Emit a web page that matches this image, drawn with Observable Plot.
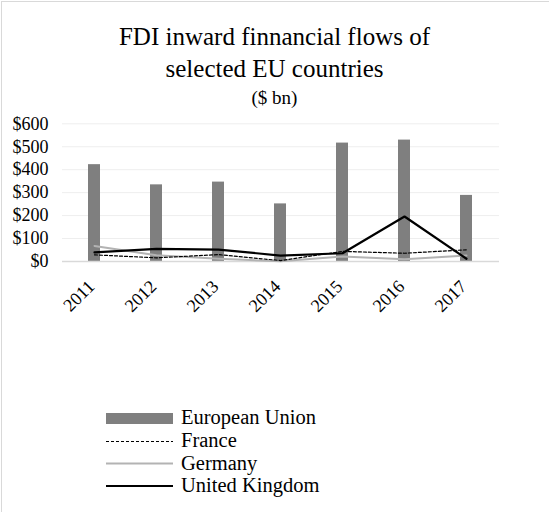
<!DOCTYPE html>
<html><head><meta charset="utf-8">
<script src="https://cdn.jsdelivr.net/npm/d3@7"></script>
<script src="https://cdn.jsdelivr.net/npm/@observablehq/plot@0.6"></script>
<style>
body{margin:0;background:#fff;}
#chart{position:relative;width:549px;height:512px;overflow:hidden;font-family:"Liberation Serif",serif;color:#000;background:#fff;}
#chart svg, #chart svg text, #chart div{font-family:"Liberation Serif",serif !important;}
#frame{position:absolute;left:1px;top:1px;width:600px;height:600px;border-left:1px solid #d9d9d9;border-top:1px solid #d9d9d9;}
.t{position:absolute;left:0;width:549px;text-align:center;line-height:1;white-space:nowrap;}
#plot{position:absolute;left:0;top:110px;}
#legend{position:absolute;left:0;top:400px;}
.lt{position:absolute;left:181px;font-size:20.5px;line-height:1;white-space:nowrap;}
</style></head><body>
<div id="chart">
  <div id="frame"></div>
  <div class="t" style="top:24px;font-size:25px;">FDI inward finnancial flows of</div>
  <div class="t" style="top:56.4px;font-size:25px;">selected EU countries</div>
  <div class="t" style="top:87.5px;font-size:19px;">($ bn)</div>
  <div id="plot"></div>
  <div id="legend"></div>
</div>
<script>
const years = ["2011", "2012", "2013", "2014", "2015", "2016", "2017"];
const euValues = [422, 334, 346, 251, 516, 529, 288];
const franceValues = [29, 16, 30, 4, 44, 36, 51];
const germanyValues = [68, 27, 12, 1, 22, 10, 26];
const ukValues = [40, 55, 52, 26, 36, 196, 12];
const seriesNames = ["European Union", "France", "Germany", "United Kingdom"];
const yTicks = [0, 100, 200, 300, 400, 500, 600];

const rows = years.map((year, i) => ({
  year, eu: euValues[i], france: franceValues[i], germany: germanyValues[i], uk: ukValues[i]
}));

const serif = "Liberation Serif";
const chart = Plot.plot({
  width: 549,
  height: 206,
  marginTop: 13.3,
  marginBottom: 55,
  marginLeft: 62,
  marginRight: 50,
  style: {fontFamily: serif, fontSize: "18px", color: "#000", background: "transparent", overflow: "visible"},
  x: {domain: years, paddingInner: 0.8, paddingOuter: 0.4, label: null},
  y: {domain: [0, 600], label: null},
  marks: [
    Plot.gridY(yTicks, {stroke: "#eeeeee", strokeOpacity: 1, strokeWidth: 1}),
    Plot.barY(rows, {x: "year", y: "eu", fill: "#7f7f7f"}),
    Plot.ruleY([0], {stroke: "#d9d9d9", strokeWidth: 1.5}),
    Plot.line(rows, {x: "year", y: "germany", stroke: "#b3b3b3", strokeWidth: 2}),
    Plot.line(rows, {x: "year", y: "france", stroke: "#000", strokeWidth: 1.2, strokeDasharray: "3,2"}),
    Plot.line(rows, {x: "year", y: "uk", stroke: "#000", strokeWidth: 2.2}),
    Plot.axisY(yTicks, {tickSize: 0, tickPadding: 14, tickFormat: d => "$" + d, fontSize: 18, fontFamily: serif, label: null}),
    Plot.axisX({tickSize: 0, tickRotate: -45, tickPadding: 0, dx: -3, dy: 22, fontSize: 18, fontFamily: serif, label: null})
  ]
});
document.getElementById("plot").appendChild(chart);

// legend
const swatchStyles = [
  {type: "rect", fill: "#7f7f7f"},
  {type: "line", stroke: "#000", width: 1.2, dash: "3,2"},
  {type: "line", stroke: "#b3b3b3", width: 2, dash: null},
  {type: "line", stroke: "#000", width: 2.2, dash: null}
];
const rowY = [18.5, 41.5, 63.5, 86];
const textTop = [406.5, 429.5, 452.5, 474.5];
const leg = d3.select("#legend");
const svg = leg.append("svg").attr("width", 200).attr("height", 100);
seriesNames.forEach((name, i) => {
  const s = swatchStyles[i];
  if (s.type === "rect") {
    svg.append("rect").attr("x", 106).attr("y", rowY[i] - 5.5).attr("width", 67).attr("height", 11).attr("fill", s.fill);
  } else {
    const l = svg.append("line").attr("x1", 106).attr("x2", 173).attr("y1", rowY[i]).attr("y2", rowY[i])
      .attr("stroke", s.stroke).attr("stroke-width", s.width);
    if (s.dash) l.attr("stroke-dasharray", s.dash);
  }
  d3.select("#chart").append("div").attr("class", "lt").style("top", textTop[i] + "px").text(name);
});
</script>
</body></html>
